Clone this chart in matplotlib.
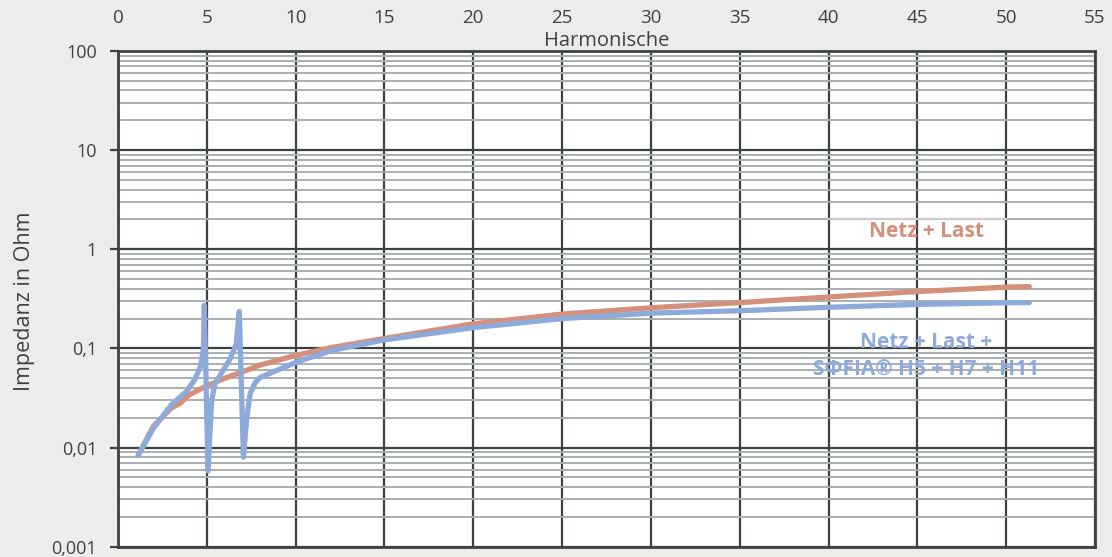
import numpy as np
import matplotlib
matplotlib.use("Agg")
from matplotlib import pyplot as plt
from matplotlib.ticker import FixedLocator, FixedFormatter, LogLocator, NullFormatter

# Netz + Last
h_netz = [1.15, 2, 3, 3.5, 4, 5, 5.4, 6, 7, 8, 9, 10, 12, 15, 20, 25, 30, 35, 40, 45, 50, 51.3]
z_netz = [0.0085, 0.0165, 0.025, 0.028, 0.034, 0.042, 0.045, 0.05, 0.058, 0.068, 0.076, 0.085,
          0.102, 0.126, 0.177, 0.222, 0.257, 0.29, 0.33, 0.375, 0.415, 0.42]

# Netz + Last + SOFIA H5 + H7 + H11
h_sofia = [1.13, 2, 3, 3.87, 4.34, 4.66, 4.81, 4.86, 5.07, 5.27, 5.46, 5.84, 6.31, 6.65, 6.83,
           7.06, 7.25, 7.44, 7.72, 8.0, 8.75, 10.06, 12.1, 15, 20, 25, 30, 35, 40, 45, 50, 51.3]
z_sofia = [0.0083, 0.0157, 0.027, 0.037, 0.049, 0.067, 0.1, 0.272, 0.0058, 0.0297, 0.044, 0.057,
           0.078, 0.11, 0.236, 0.008, 0.02, 0.035, 0.045, 0.051, 0.058, 0.073, 0.096, 0.122,
           0.162, 0.2, 0.227, 0.24, 0.26, 0.278, 0.289, 0.29]

y_ticks = [0.001, 0.01, 0.1, 1, 10, 100]
y_labels = ["0,001", "0,01", "0,1", "1", "10", "100"]
x_ticks = list(range(0, 56, 5))

red = "#D4907B"
blue = "#8EAADB"
txt = "#404040"
plt.rcParams['font.family'] = ['Open Sans', 'DejaVu Sans']

fig = plt.figure(figsize=(11.12, 5.57), dpi=100)
fig.patch.set_facecolor("#EDECEA")
ax = fig.add_axes([0.1061, 0.0185, 0.8786, 0.8899])
ax.set_facecolor("white")

ax.set_yscale("log")
ax.set_xlim(0, 55)
ax.set_ylim(0.001, 100)

ax.yaxis.set_major_locator(FixedLocator(y_ticks))
ax.yaxis.set_major_formatter(FixedFormatter(y_labels))
ax.yaxis.set_minor_locator(LogLocator(base=10, subs=np.arange(2, 10)))
ax.yaxis.set_minor_formatter(NullFormatter())
ax.set_xticks(x_ticks)

ax.grid(which="major", axis="both", color="#3C4141", lw=1.6)
ax.grid(which="minor", axis="y", color="#A9AEB0", lw=1.4)
ax.set_axisbelow(True)
# light strip behind the label box
ax.axhline(2, xmin=40 / 55, xmax=50 / 55, color="#CACACA", lw=1.6, zorder=1.5)

ax.plot(h_netz, z_netz, color=red, lw=3.8, solid_capstyle="round", zorder=3)
ax.plot(h_sofia, z_sofia, color=blue, lw=3.8, solid_capstyle="round",
        solid_joinstyle="round", zorder=4)

ax.xaxis.tick_top()
ax.tick_params(axis="x", which="both", length=0, pad=17, labelsize=13.5, labelcolor=txt)
ax.tick_params(axis="y", which="major", length=6, width=1.6, color="#3C4141",
               pad=9, labelsize=13, labelcolor=txt)
ax.tick_params(axis="y", which="minor", length=0)
for s in ax.spines.values():
    s.set_color("#3C4141")
    s.set_linewidth(2)

ax.text(0.5, 1.0, "Harmonische", transform=ax.transAxes, ha="center", va="bottom",
        fontsize=14.5, color=txt)
fig.text(0.022, 0.46, "Impedanz in Ohm", rotation=90, ha="center", va="center",
         fontsize=15.5, color=txt)

ax.text(45.5, 1.5, "Netz + Last", ha="center", va="center", fontsize=15,
        fontweight="bold", color=red, zorder=5)
ax.text(45.5, 0.083, "Netz + Last +\nSΦFIA® H5 + H7 + H11", ha="center", va="center",
        fontsize=15, fontweight="bold", color=blue, linespacing=1.45, zorder=5)

fig.savefig("out.png", dpi=100, facecolor=fig.get_facecolor())
